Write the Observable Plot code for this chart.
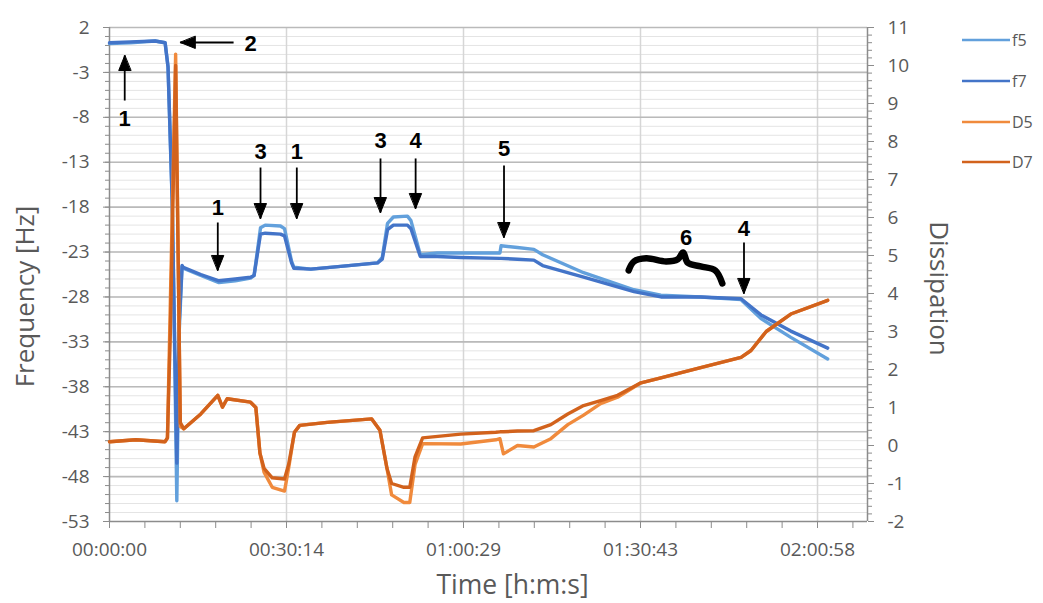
<!DOCTYPE html>
<html>
<head>
<meta charset="utf-8">
<script src="https://cdn.jsdelivr.net/npm/d3@7"></script>
<script src="https://cdn.jsdelivr.net/npm/@observablehq/plot@0.6"></script>
<style>
  body { margin: 0; background: #fff; }
  #chart { position: relative; width: 1043px; height: 603px; font-family: "Open Sans", sans-serif; }
  #legend { position: absolute; left: 962px; top: 20px; }
  #legend .item { display: flex; align-items: center; height: 40.7px; font-size: 16px; color: #595959; }
  #legend svg { margin-right: 2px; }
</style>
</head>
<body>
<div id="chart"><div id="legend"></div></div>
<script>
// ---- Frequency shifts (Hz), time in minutes since start ----
const timeF = [0, 3.6, 7.8, 9.5, 10.0, 10.7, 11.0, 11.5, 11.9, 12.4, 12.6, 15.6, 18.7, 21.5, 24.1, 24.7,
  25.8, 26.6, 29.2, 29.9, 31.1, 31.5, 34.4, 39.5, 45.8, 46.6, 47.5, 48.5, 50.9, 51.5, 53.1, 56.0,
  60.0, 66.7, 66.9, 69.7, 72.5, 74.0, 81.0, 89.6, 94.2, 101.0, 107.9, 111.3, 116.4, 122.7];
const f5 = [0.2, 0.3, 0.5, 0.3, -2.4, -17.3, -28.4, -50.7, -32.0, -24.6, -24.8, -25.6, -26.4, -26.2, -25.9, -25.6,
  -20.3, -20.0, -20.1, -20.4, -24.0, -24.7, -24.9, -24.6, -24.2, -23.6, -19.8, -19.1, -19.0, -19.5, -23.3, -23.1,
  -23.1, -23.1, -22.3, -22.5, -22.7, -23.3, -25.3, -27.2, -27.8, -28.0, -28.3, -30.4, -32.5, -34.9];
const f7 = [0.3, 0.4, 0.5, 0.3, -2.4, -17.0, -28.0, -46.5, -31.0, -24.5, -24.7, -25.5, -26.2, -26.0, -25.8, -25.6,
  -21.0, -20.9, -21.0, -21.2, -24.2, -24.8, -24.9, -24.6, -24.2, -23.8, -20.5, -20.0, -20.0, -20.4, -23.5, -23.5,
  -23.6, -23.7, -23.7, -23.8, -23.9, -24.5, -25.8, -27.4, -28.0, -28.0, -28.2, -30.0, -31.8, -33.7];

// ---- Dissipation (x 1e-6), time in minutes since start ----
const timeD = [0, 4.5, 9.5, 9.9, 10.4, 11.3, 12.1, 12.7, 15.6, 18.5, 19.3, 20.1, 24.1, 25.0, 25.7, 26.4,
  27.8, 29.9, 30.6, 31.6, 32.5, 37.2, 44.8, 46.2, 47.4, 48.2, 50.3, 51.3, 52.2, 53.5, 60.0, 66.0,
  66.7, 67.3, 69.7, 72.5, 75.4, 78.3, 81.0, 83.9, 86.8, 90.8, 94.2, 101.0, 107.9, 109.6, 112.2, 116.4, 122.7];
const D5 = [0.1, 0.15, 0.1, 0.2, 3.8, 10.3, 0.5, 0.44, 0.83, 1.32, 1.01, 1.23, 1.14, 1.0, -0.2, -0.7,
  -1.1, -1.2, -0.6, 0.35, 0.53, 0.61, 0.7, 0.4, -0.6, -1.3, -1.5, -1.5, -0.5, 0.05, 0.04, 0.15,
  0.18, -0.22, 0.0, -0.04, 0.18, 0.55, 0.8, 1.1, 1.27, 1.65, 1.78, 2.05, 2.32, 2.5, 3.0, 3.46, 3.82];
const D7 = [0.1, 0.15, 0.1, 0.2, 3.0, 10.0, 0.6, 0.44, 0.83, 1.32, 1.01, 1.23, 1.14, 1.0, -0.2, -0.6,
  -0.85, -0.88, -0.5, 0.35, 0.53, 0.61, 0.7, 0.4, -0.6, -1.0, -1.1, -1.1, -0.3, 0.2, 0.3, 0.35,
  0.36, 0.36, 0.38, 0.39, 0.55, 0.83, 1.05, 1.18, 1.32, 1.65, 1.78, 2.05, 2.32, 2.5, 3.0, 3.46, 3.82];

// ---- Axes ----
const timeTicks = [0, 30.24, 60.48, 90.72, 120.96];
const timeTickLabels = ["00:00:00", "00:30:14", "01:00:29", "01:30:43", "02:00:58"];
const timeMinorStep = 6.048;
const timeMax = 129.5;
const freqTicks = [2, -3, -8, -13, -18, -23, -28, -33, -38, -43, -48, -53];
const dissTicks = [-2, -1, 0, 1, 2, 3, 4, 5, 6, 7, 8, 9, 10, 11];

// ---- Annotations (time in minutes, frequency in Hz) ----
const markers = [
  {label: "1", x: 2.6,   y: -8.13,  x1: 2.6,   y1: -6.13,  x2: 2.6,   y2: -1.12,  dir: 0},
  {label: "2", x: 24.1,  y: 0.22,   x1: 21.2,  y1: 0.33,   x2: 12.1,  y2: 0.33,   dir: 270},
  {label: "1", x: 18.5,  y: -18.04, x1: 18.5,  y1: -19.71, x2: 18.5,  y2: -25.05, dir: 180},
  {label: "3", x: 25.8,  y: -11.81, x1: 25.8,  y1: -13.59, x2: 25.8,  y2: -19.27, dir: 180},
  {label: "1", x: 32.0,  y: -11.81, x1: 32.0,  y1: -13.59, x2: 32.0,  y2: -19.27, dir: 180},
  {label: "3", x: 46.3,  y: -10.58, x1: 46.3,  y1: -12.58, x2: 46.3,  y2: -18.6,  dir: 180},
  {label: "4", x: 52.3,  y: -10.58, x1: 52.3,  y1: -12.58, x2: 52.3,  y2: -18.15, dir: 180},
  {label: "5", x: 67.4,  y: -11.47, x1: 67.4,  y1: -13.36, x2: 67.4,  y2: -21.38, dir: 180},
  {label: "6", x: 98.5,  y: -21.38},
  {label: "4", x: 108.4, y: -20.38, x1: 108.4, y1: -21.94, x2: 108.4, y2: -27.61, dir: 180}
];
const braceT = [88.7, 89.6, 91.7, 95.1, 97.1, 98.0, 98.8, 101.0, 103.5, 104.7];
const braceF = [-25.05, -24.05, -23.7, -24.05, -23.8, -23.05, -24.2, -24.6, -25.05, -26.5];

const colors = {f5: "#62a0dc", f7: "#4374c8", D5: "#f08a3c", D7: "#d2621c"};
const seriesNames = ["f5", "f7", "D5", "D7"];

// dissipation is drawn against the frequency scale through a linear map
const fMin = -53, fMax = 2, dMin = -2, dMax = 11;
const toHz = d => fMin + (d - dMin) * (fMax - fMin) / (dMax - dMin);

const rowsF = timeF.map((t, i) => ({t, f5: f5[i], f7: f7[i]}));
const rowsD = timeD.map((t, i) => ({t, D5: toHz(D5[i]), D7: toHz(D7[i])}));
const brace = braceT.map((t, i) => ({t, f: braceF[i]}));
const arrows = markers.filter(m => m.dir !== undefined);

const timeLabel = new Map(timeTicks.map((t, i) => [t, timeTickLabels[i]]));
const dissPos = dissTicks.map(toHz);
const dissLabel = new Map(dissPos.map((p, i) => [p, String(dissTicks[i])]));
const minorHz = d3.range(fMax, fMin - 0.5, -1);
const minorTime = d3.range(0, timeMax, timeMinorStep);
const minorDissPos = d3.range(dMin, dMax + 0.01, 0.2).map(toHz);

// filled arrowhead for the annotation arrows
const headShape = {
  draw(context, l) {
    const w = 6;
    context.moveTo(0, -l);
    context.lineTo(-w, 0);
    context.lineTo(w, 0);
    context.closePath();
  }
};

const axisGray = "#8c8c8c";
const textGray = "#595959";

const chart = Plot.plot({
  width: 1043,
  height: 603,
  marginLeft: 109,
  marginRight: 176,
  marginTop: 27,
  marginBottom: 82,
  x: {domain: [0, timeMax], label: null},
  y: {domain: [fMin, fMax], label: null},
  style: {fontFamily: '"Open Sans", sans-serif', color: textGray, background: "white"},
  marks: [
    Plot.gridY(minorHz, {stroke: "#e4e4e4", strokeOpacity: 1, strokeWidth: 1}),
    Plot.gridX(timeTicks.slice(1), {stroke: "#d6d6d6", strokeOpacity: 1, strokeWidth: 1.5}),
    Plot.gridY(freqTicks.slice(0, -1), {stroke: "#bababa", strokeOpacity: 1, strokeWidth: 1.6}),

    Plot.ruleX([0], {stroke: axisGray, strokeWidth: 1.5}),
    Plot.ruleX([timeMax], {stroke: axisGray, strokeWidth: 1.5}),
    Plot.ruleY([fMin], {stroke: axisGray, strokeWidth: 1.5}),

    Plot.axisY(minorHz, {anchor: "left", tickSize: 4, stroke: axisGray, tickFormat: () => "", label: null}),
    Plot.axisY(freqTicks, {anchor: "left", tickSize: 6, tickPadding: 14, stroke: axisGray, fill: textGray,
      fontSize: 19, tickFormat: d => String(d), label: null}),
    Plot.axisY(minorDissPos, {anchor: "right", tickSize: 4, stroke: axisGray, tickFormat: () => "", label: null}),
    Plot.axisY(dissPos, {anchor: "right", tickSize: 6, tickPadding: 14, stroke: axisGray, fill: textGray,
      fontSize: 19, tickFormat: d => dissLabel.get(d), label: null}),
    Plot.axisX(minorTime, {anchor: "bottom", tickSize: 7, stroke: axisGray, tickFormat: () => "", label: null}),
    Plot.axisX(timeTicks, {anchor: "bottom", tickSize: 7, tickPadding: 14, stroke: axisGray, fill: textGray,
      fontSize: 19, tickFormat: d => timeLabel.get(d), label: null}),

    Plot.text(["Frequency [Hz]"], {frameAnchor: "left", textAnchor: "middle", lineAnchor: "middle",
      rotate: -90, dx: -84, dy: 22, fontSize: 26, fill: textGray}),
    Plot.text(["Dissipation"], {frameAnchor: "right", textAnchor: "middle", lineAnchor: "middle",
      rotate: 90, dx: 71, dy: 14, fontSize: 26, fill: textGray}),
    Plot.text(["Time [h:m:s]"], {frameAnchor: "bottom", textAnchor: "middle", lineAnchor: "middle",
      dx: 24, dy: 64, fontSize: 26.5, fill: textGray}),

    Plot.line(rowsF, {x: "t", y: "f5", stroke: colors.f5, strokeWidth: 3.4}),
    Plot.line(rowsF, {x: "t", y: "f7", stroke: colors.f7, strokeWidth: 3.4}),
    Plot.line(rowsD, {x: "t", y: "D5", stroke: colors.D5, strokeWidth: 3.4}),
    Plot.line(rowsD, {x: "t", y: "D7", stroke: colors.D7, strokeWidth: 3.4}),

    Plot.link(arrows, {x1: "x1", y1: "y1", x2: "x2", y2: "y2", stroke: "black", strokeWidth: 1.8}),
    Plot.vector(arrows, {x: "x2", y: "y2", rotate: "dir", length: 15, anchor: "end", shape: headShape,
      fill: "black", stroke: "black", strokeWidth: 1}),
    Plot.line(brace, {x: "t", y: "f", curve: "catmull-rom", stroke: "black", strokeWidth: 6.5,
      strokeLinecap: "round", strokeLinejoin: "round"}),
    Plot.text(markers, {x: "x", y: "y", text: "label", fontSize: 22, fontWeight: "bold",
      fontFamily: '"Liberation Sans", Arial, sans-serif', fill: "black"})
  ]
});

const root = document.getElementById("chart");
root.insertBefore(chart, root.firstChild);

// legend
const legend = document.getElementById("legend");
for (const name of seriesNames) {
  const item = document.createElement("div");
  item.className = "item";
  item.innerHTML = `<svg width="48" height="4"><line x1="0" y1="2" x2="48" y2="2" stroke="${colors[name]}" stroke-width="2.5"/></svg><span>${name}</span>`;
  legend.appendChild(item);
}
</script>
</body>
</html>
